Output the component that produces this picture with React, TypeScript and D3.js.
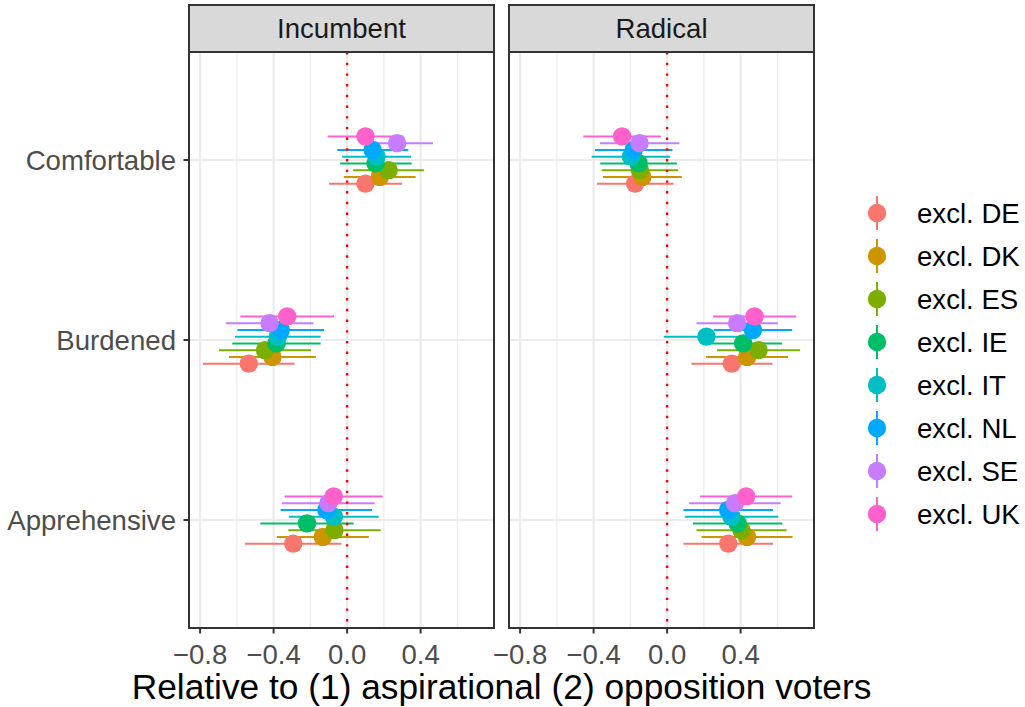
import React from "react";
import * as d3 from "d3";

// Facets, rows and series
const panels = ["Incumbent", "Radical"];
const categories = ["Comfortable", "Burdened", "Apprehensive"];
const series = ["excl. DE", "excl. DK", "excl. ES", "excl. IE", "excl. IT", "excl. NL", "excl. SE", "excl. UK"];
const seriesColors = ["#F8766D", "#CD9600", "#7CAE00", "#00BE67", "#00BFC4", "#00A9FF", "#C77CFF", "#FF61CC"];
const xTicks = [-0.8, -0.4, 0.0, 0.4];
const xMinorTicks = [-0.6, -0.2, 0.2, 0.6];

// Incumbent: rows = Comfortable, Burdened, Apprehensive; columns follow `series`
const incumbentEst = [
  [0.100, 0.178, 0.226, 0.155, 0.160, 0.139, 0.272, 0.100],
  [-0.535, -0.406, -0.447, -0.384, -0.377, -0.361, -0.422, -0.326],
  [-0.293, -0.132, -0.069, -0.218, -0.072, -0.113, -0.102, -0.073],
];
const incumbentLow = [
  [-0.098, -0.018, 0.033, -0.038, -0.027, -0.054, 0.077, -0.106],
  [-0.785, -0.643, -0.697, -0.625, -0.610, -0.597, -0.660, -0.581],
  [-0.556, -0.382, -0.320, -0.472, -0.317, -0.362, -0.355, -0.340],
];
const incumbentHigh = [
  [0.299, 0.373, 0.418, 0.351, 0.348, 0.333, 0.467, 0.306],
  [-0.286, -0.170, -0.197, -0.144, -0.144, -0.125, -0.183, -0.071],
  [-0.031, 0.118, 0.183, 0.036, 0.172, 0.136, 0.150, 0.194],
];

// Radical
const radicalEst = [
  [-0.174, -0.135, -0.148, -0.155, -0.197, -0.182, -0.150, -0.245],
  [0.352, 0.436, 0.498, 0.414, 0.214, 0.467, 0.381, 0.476],
  [0.333, 0.435, 0.405, 0.384, 0.350, 0.332, 0.369, 0.430],
];
const radicalLow = [
  [-0.382, -0.349, -0.356, -0.364, -0.411, -0.393, -0.366, -0.456],
  [0.132, 0.212, 0.272, 0.202, -0.018, 0.253, 0.160, 0.250],
  [0.089, 0.188, 0.160, 0.141, 0.096, 0.089, 0.120, 0.179],
];
const radicalHigh = [
  [0.035, 0.080, 0.060, 0.053, 0.016, 0.029, 0.067, -0.034],
  [0.573, 0.659, 0.724, 0.626, 0.446, 0.681, 0.603, 0.703],
  [0.576, 0.683, 0.650, 0.627, 0.605, 0.576, 0.618, 0.681],
];

const panelData = [
  { est: incumbentEst, low: incumbentLow, high: incumbentHigh },
  { est: radicalEst, low: radicalLow, high: radicalHigh },
];

const W = 1025;
const H = 707;
const FONT = "'Liberation Sans', Arial, Helvetica, sans-serif";
const panelLeft = [189, 509];
const panelWidth = 305;
const panelTop = 52;
const panelBottom = 628;
const stripTop = 5;
const dodgeWidth = 0.3;

export default function App() {
  const allVals = [
    ...incumbentLow.flat(), ...incumbentHigh.flat(),
    ...radicalLow.flat(), ...radicalHigh.flat(),
  ];
  const [lo, hi] = d3.extent(allVals) as [number, number];
  const pad = (hi - lo) * 0.05;
  const domain: [number, number] = [lo - pad, hi + pad];

  const y = d3.scalePoint<string>().domain(categories).range([panelTop, panelBottom]).padding(0.6);
  const step = y.step();
  const dodge = (i: number) => ((series.length - 1) / 2 - i) * (dodgeWidth / series.length) * step;

  const legendX = 877;
  const legendY0 = 213;
  const legendStep = 43;

  return (
    <svg width={W} height={H} style={{ position: "absolute", left: 0, top: 0, background: "#fff" }} fontFamily={FONT}>
      <rect x={0} y={0} width={W} height={H} fill="#fff" />
      {panels.map((p, pi) => {
        const x = d3.scaleLinear().domain(domain).range([panelLeft[pi], panelLeft[pi] + panelWidth]);
        const d = panelData[pi];
        const left = panelLeft[pi];
        return (
          <g key={p}>
            {/* grid */}
            {xMinorTicks.map((t) => (
              <line key={"mi" + t} x1={x(t)} x2={x(t)} y1={panelTop} y2={panelBottom} stroke="#EBEBEB" strokeWidth={1.1} />
            ))}
            {xTicks.map((t) => (
              <line key={"ma" + t} x1={x(t)} x2={x(t)} y1={panelTop} y2={panelBottom} stroke="#EBEBEB" strokeWidth={2.2} />
            ))}
            {categories.map((c) => (
              <line key={"hg" + c} x1={left} x2={left + panelWidth} y1={y(c)} y2={y(c)} stroke="#EBEBEB" strokeWidth={2.2} />
            ))}
            {/* error bars */}
            {categories.map((c, ci) =>
              series.map((s, si) => (
                <line
                  key={"eb" + c + s}
                  x1={x(d.low[ci][si])}
                  x2={x(d.high[ci][si])}
                  y1={(y(c) as number) + dodge(si)}
                  y2={(y(c) as number) + dodge(si)}
                  stroke={seriesColors[si]}
                  strokeWidth={2}
                />
              ))
            )}
            {/* reference line at zero */}
            <line x1={x(0)} x2={x(0)} y1={panelTop} y2={panelBottom} stroke="#FF0000" strokeWidth={2.4} strokeDasharray="2.4 8.3" />
            {/* points */}
            {categories.map((c, ci) =>
              series.map((s, si) => (
                <circle
                  key={"pt" + c + s}
                  cx={x(d.est[ci][si])}
                  cy={(y(c) as number) + dodge(si)}
                  r={9.2}
                  fill={seriesColors[si]}
                />
              ))
            )}
            {/* panel border */}
            <rect x={left} y={panelTop} width={panelWidth} height={panelBottom - panelTop} fill="none" stroke="#333333" strokeWidth={2} />
            {/* strip */}
            <rect x={left} y={stripTop} width={panelWidth} height={panelTop - stripTop} fill="#D9D9D9" stroke="#333333" strokeWidth={2} />
            <text x={left + panelWidth / 2} y={(stripTop + panelTop) / 2} dy="0.35em" textAnchor="middle" fontSize={27.6} fill="#1A1A1A">
              {p}
            </text>
            {/* x axis */}
            {xTicks.map((t) => (
              <g key={"xt" + t}>
                <line x1={x(t)} x2={x(t)} y1={panelBottom} y2={panelBottom + 5.5} stroke="#333333" strokeWidth={2} />
                <text x={x(t)} y={panelBottom + 36} textAnchor="middle" fontSize={27.6} fill="#4D4D4D">
                  {d3.format(".1f")(t).replace("-", "\u2212")}
                </text>
              </g>
            ))}
          </g>
        );
      })}
      {/* y axis */}
      {categories.map((c) => (
        <g key={"yt" + c}>
          <line x1={panelLeft[0] - 5.5} x2={panelLeft[0]} y1={y(c)} y2={y(c)} stroke="#333333" strokeWidth={2} />
          <text x={panelLeft[0] - 13} y={y(c)} dy="0.35em" textAnchor="end" fontSize={27.6} fill="#4D4D4D">
            {c}
          </text>
        </g>
      ))}
      {/* axis title */}
      <text x={(panelLeft[0] + panelLeft[1] + panelWidth) / 2} y={699} textAnchor="middle" fontSize={35.3} fill="#000">
        Relative to (1) aspirational (2) opposition voters
      </text>
      {/* legend */}
      {series.map((s, si) => {
        const cy = legendY0 + si * legendStep;
        return (
          <g key={"lg" + s}>
            <line x1={legendX} x2={legendX} y1={cy - 17} y2={cy + 17} stroke={seriesColors[si]} strokeWidth={2} />
            <circle cx={legendX} cy={cy} r={9.2} fill={seriesColors[si]} />
            <text x={917} y={cy} dy="0.35em" fontSize={27.6} fill="#000">
              {s}
            </text>
          </g>
        );
      })}
    </svg>
  );
}
